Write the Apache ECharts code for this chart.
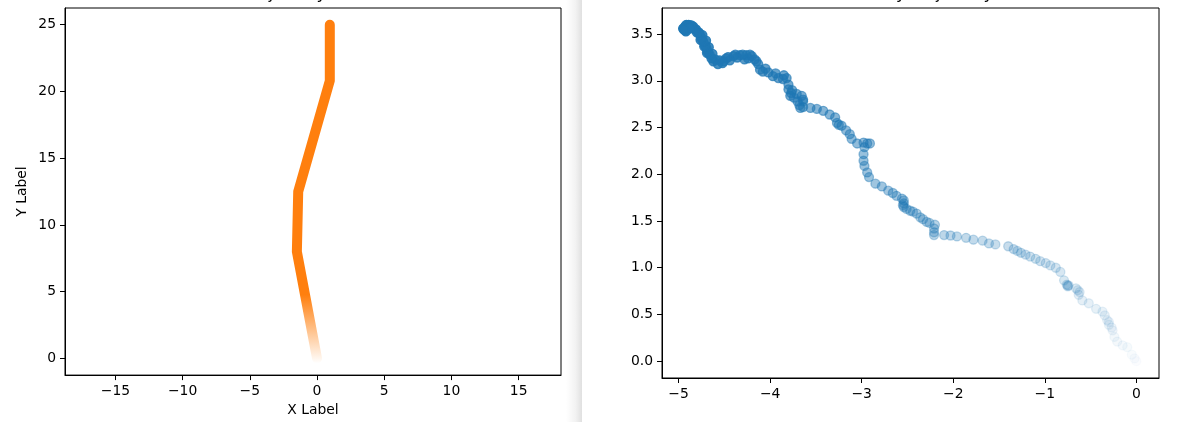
<!DOCTYPE html>
<html><head><meta charset="utf-8">
<script src="https://cdn.jsdelivr.net/npm/echarts@6/dist/echarts.min.js"></script>
<style>html,body{margin:0;padding:0;background:#fff}#c{width:1183px;height:422px}</style>
</head><body><div id="c"></div>
<script>
// ---- data ----
const leftTitle = 'Trajectory Plot';
const rightTitle = 'Policy Trajectory';
const lineX = [0, -1.5, -1.4, 0.95, 0.95];
const lineY = [0, 8.0, 12.5, 20.8, 25];
const leftXTicks = [-15, -10, -5, 0, 5, 10, 15];
const leftYTicks = [0, 5, 10, 15, 20, 25];
const rightXTicks = [-5, -4, -3, -2, -1, 0];
const rightYTicks = [0, 0.5, 1, 1.5, 2, 2.5, 3, 3.5];
// trajectory points in time order (start near origin)
const scatterPoints = [
 [0.00,0.00],[-0.02,0.03],[-0.05,0.07],[-0.10,0.15],[-0.15,0.17],[-0.21,0.21],[-0.24,0.26],[-0.26,0.33],
 [-0.27,0.36],[-0.30,0.39],[-0.32,0.44],[-0.30,0.42],[-0.345,0.49],[-0.37,0.53],[-0.44,0.56],[-0.52,0.62],
 [-0.59,0.65],[-0.63,0.71],[-0.62,0.74],[-0.64,0.76],[-0.66,0.78],[-0.75,0.81],[-0.74,0.81],[-0.76,0.82],
 [-0.75,0.80],[-0.79,0.865],[-0.83,0.955],[-0.88,1.00],[-0.94,1.025],[-0.99,1.05],[-1.05,1.07],[-1.10,1.095],
 [-1.16,1.12],[-1.21,1.14],[-1.26,1.16],[-1.30,1.18],[-1.34,1.20],[-1.40,1.23],[-1.54,1.25],[-1.61,1.26],
 [-1.68,1.29],[-1.78,1.30],[-1.86,1.32],[-1.96,1.335],[-2.03,1.345],[-2.10,1.35],[-2.21,1.35],[-2.21,1.38],
 [-2.21,1.42],[-2.20,1.46],[-2.26,1.48],[-2.29,1.49],[-2.33,1.52],[-2.36,1.54],[-2.40,1.58],[-2.44,1.60],
 [-2.47,1.61],[-2.51,1.63],[-2.54,1.65],[-2.55,1.67],[-2.54,1.69],[-2.54,1.72],[-2.56,1.74],[-2.62,1.77],
 [-2.66,1.80],[-2.71,1.825],[-2.78,1.87],[-2.85,1.90],[-2.92,1.97],[-2.94,2.02],[-2.97,2.09],[-2.98,2.145],
 [-2.98,2.215],[-2.97,2.29],[-2.94,2.33],[-2.91,2.33],[-2.98,2.34],[-3.05,2.33],[-3.11,2.38],[-3.13,2.43],
 [-3.17,2.47],[-3.22,2.52],[-3.25,2.53],[-3.27,2.55],[-3.29,2.61],[-3.35,2.64],[-3.42,2.68],[-3.49,2.70],
 [-3.56,2.71],[-3.64,2.72],[-3.67,2.71],[-3.68,2.74],[-3.64,2.78],[-3.64,2.80],[-3.70,2.78],[-3.655,2.84],
 [-3.74,2.82],[-3.71,2.86],[-3.78,2.84],[-3.77,2.87],[-3.80,2.91],[-3.76,2.90],[-3.80,2.96],[-3.82,3.03],
 [-3.86,3.02],[-3.85,3.06],[-3.91,3.03],[-3.94,3.08],[-3.97,3.05],[-4.02,3.09],[-4.05,3.13],[-4.08,3.10],
 [-4.11,3.12],[-4.15,3.21],[-4.13,3.18],[-4.17,3.23],[-4.20,3.265],[-4.22,3.28],[-4.24,3.24],[-4.26,3.275],
 [-4.28,3.23],[-4.30,3.28],[-4.33,3.275],[-4.36,3.25],[-4.38,3.28],[-4.40,3.265],[-4.44,3.22],[-4.46,3.255],
 [-4.48,3.24],[-4.51,3.21],[-4.52,3.19],[-4.57,3.18],[-4.55,3.22],[-4.60,3.23],[-4.62,3.21],[-4.63,3.29],
 [-4.64,3.24],[-4.66,3.28],[-4.67,3.36],[-4.68,3.31],[-4.69,3.30],[-4.695,3.35],[-4.70,3.43],[-4.71,3.38],
 [-4.72,3.37],[-4.73,3.42],[-4.74,3.49],[-4.75,3.46],[-4.76,3.44],[-4.77,3.50],[-4.78,3.52],[-4.80,3.52],
 [-4.81,3.55],[-4.84,3.58],[-4.86,3.595],[-4.89,3.60],[-4.915,3.60],[-4.93,3.58],[-4.95,3.56],
 [-4.92,3.53],[-4.88,3.56],[-4.94,3.55]
];

// ---- chart ----
const minus = v => (v < 0 ? '\u2212' : '') + Math.abs(v);
const minus1 = v => (v < 0 ? '\u2212' : '') + Math.abs(v).toFixed(1);
const FONT = 'DejaVu Sans';
const BLUE = '#1f77b4';
const axBase = (ticks, fmt, extra) => Object.assign({
  type: 'value', splitLine: {show: false},
  axisLine: {show: true, onZero: false, lineStyle: {color: '#000', width: 1}},
  axisTick: {show: true, length: 5, inside: false, customValues: ticks, lineStyle: {color: '#000', width: 1}},
  axisLabel: {customValues: ticks, formatter: fmt, color: '#000', fontSize: 13.9, fontFamily: FONT, margin: 9},
  nameTextStyle: {color: '#000', fontSize: 13.9, fontFamily: FONT}
}, extra);

const N = scatterPoints.length;
const scatterData = scatterPoints.map((p, i) => ({
  value: p,
  itemStyle: {opacity: 0.02 + 0.98 * i / (N - 1)}
}));

const chart = echarts.init(document.getElementById('c'));
chart.setOption({
  animation: false,
  backgroundColor: '#fff',
  textStyle: {fontFamily: FONT},
  grid: [
    {left: 65, top: 8, width: 496, height: 370, show: true, borderColor: '#000', borderWidth: 1, backgroundColor: 'transparent'},
    {left: 662, top: 8, width: 497, height: 370, show: true, borderColor: '#000', borderWidth: 1, backgroundColor: 'transparent'}
  ],
  xAxis: [
    axBase(leftXTicks, minus, {gridIndex: 0, min: -18.75, max: 18.15, name: 'X Label', nameLocation: 'middle', nameGap: 25}),
    axBase(rightXTicks, minus, {gridIndex: 1, min: -5.181, max: 0.247})
  ],
  yAxis: [
    axBase(leftYTicks, minus, {gridIndex: 0, min: -1.25, max: 26.25, name: 'Y Label', nameLocation: 'middle', nameGap: 36}),
    axBase(rightYTicks, minus1, {gridIndex: 1, min: -0.18, max: 3.78})
  ],
  series: [
    {
      type: 'line', xAxisIndex: 0, yAxisIndex: 0, symbol: 'none', showSymbol: false,
      data: lineX.map((x, i) => [x, lineY[i]]),
      lineStyle: {
        width: 10, cap: 'round', join: 'round',
        color: {type: 'linear', x: 0, y: 1, x2: 0, y2: 0, colorStops: [
          {offset: 0, color: 'rgba(255,127,14,0)'},
          {offset: 0.2, color: 'rgba(255,127,14,1)'},
          {offset: 1, color: 'rgba(255,127,14,1)'}
        ]}
      }
    },
    {
      type: 'scatter', xAxisIndex: 1, yAxisIndex: 1, symbol: 'circle', symbolSize: 9,
      itemStyle: {color: BLUE, borderColor: BLUE, borderWidth: 1.3},
      data: scatterData
    }
  ],
  graphic: [
    {type: 'rect', left: 566, top: 0, shape: {width: 16, height: 422}, silent: true,
     style: {fill: {type: 'linear', x: 0, y: 0, x2: 1, y2: 0, colorStops: [
       {offset: 0, color: 'rgba(0,0,0,0)'}, {offset: 0.6, color: 'rgba(0,0,0,0.05)'}, {offset: 1, color: 'rgba(0,0,0,0.12)'}
     ]}}},
    {type: 'text', x: 244, y: -14, silent: true,
     style: {text: leftTitle, fill: '#000', font: '16.67px "DejaVu Sans"', textAlign: 'left', textVerticalAlign: 'top'}},
    {type: 'text', x: 858, y: -14, silent: true,
     style: {text: rightTitle, fill: '#000', font: '16.67px "DejaVu Sans"', textAlign: 'left', textVerticalAlign: 'top'}}
  ]
});
</script>
</body></html>
